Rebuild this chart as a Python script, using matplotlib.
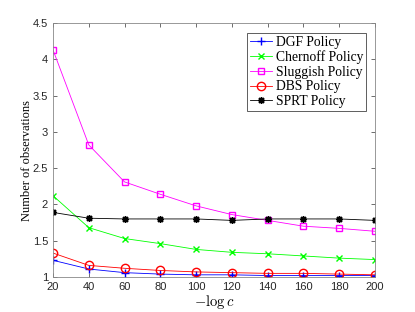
import numpy as np
import matplotlib.pyplot as plt

x = [20, 40, 60, 80, 100, 120, 140, 160, 180, 200]

dgf = [1.23, 1.11, 1.06, 1.04, 1.03, 1.03, 1.02, 1.02, 1.02, 1.02]
chernoff = [2.12, 1.68, 1.53, 1.46, 1.38, 1.34, 1.32, 1.29, 1.26, 1.24]
sluggish = [4.13, 2.82, 2.31, 2.14, 1.98, 1.86, 1.78, 1.70, 1.67, 1.63]
dbs = [1.33, 1.16, 1.12, 1.09, 1.07, 1.06, 1.05, 1.05, 1.04, 1.03]
sprt = [1.89, 1.81, 1.80, 1.80, 1.80, 1.78, 1.80, 1.80, 1.80, 1.78]

labels = ['DGF Policy', 'Chernoff Policy', 'Sluggish Policy', 'DBS Policy', 'SPRT Policy']

serif = ['Liberation Serif', 'DejaVu Serif']
plt.rcParams['font.family'] = ['Liberation Sans', 'DejaVu Sans']
plt.rcParams['mathtext.fontset'] = 'cm'

fig = plt.figure(figsize=(4.15, 3.12), dpi=100)
ax = fig.add_axes([53/415, 35/312, 322/415, 254/312])

ax.plot(x, dgf, '-', color='b', marker='+', ms=6, lw=0.6, label=labels[0])
ax.plot(x, chernoff, '-', color='#00ff00', marker='x', ms=4, lw=0.6, label=labels[1])
ax.plot(x, sluggish, '-', color='#ff00ff', marker='s', ms=5, mfc='none', lw=0.6, label=labels[2])
ax.plot(x, dbs, '-', color='r', marker='o', ms=6, mfc='none', lw=0.6, label=labels[3])
ax.plot(x, sprt, '-', color='k', marker=(8, 2, 0), ms=5, lw=0.6, label=labels[4])

ax.set_xlim(20, 200)
ax.set_ylim(1, 4.5)
ax.set_xticks(range(20, 201, 20))
ax.set_yticks(np.arange(1, 4.6, 0.5))
ax.set_yticklabels(['1', '1.5', '2', '2.5', '3', '3.5', '4', '4.5'])
ax.tick_params(direction='in', top=True, right=True, labelsize=8, length=3,
               color='#555555', width=0.6, labelcolor='#262626')
for s in ax.spines.values():
    s.set_color('#888888')
    s.set_linewidth(0.6)

ax.set_xlabel(r'$-\log c$', fontsize=10.5, va='center')
ax.xaxis.set_label_coords(0.5, -0.098)
ax.set_ylabel('Number of observations', fontsize=9, family=serif, va='center')
ax.yaxis.set_label_coords(-0.082, 0.46)

leg = ax.legend(loc='upper right', prop={'family': serif, 'size': 9.8},
                fancybox=False, edgecolor='#444444', framealpha=1,
                borderpad=0.2, labelspacing=0.12, handlelength=1.6,
                handletextpad=0.3, borderaxespad=0,
                bbox_to_anchor=(0.972, 0.961))
leg.get_frame().set_linewidth(0.6)

fig.savefig('out.png', dpi=100)
